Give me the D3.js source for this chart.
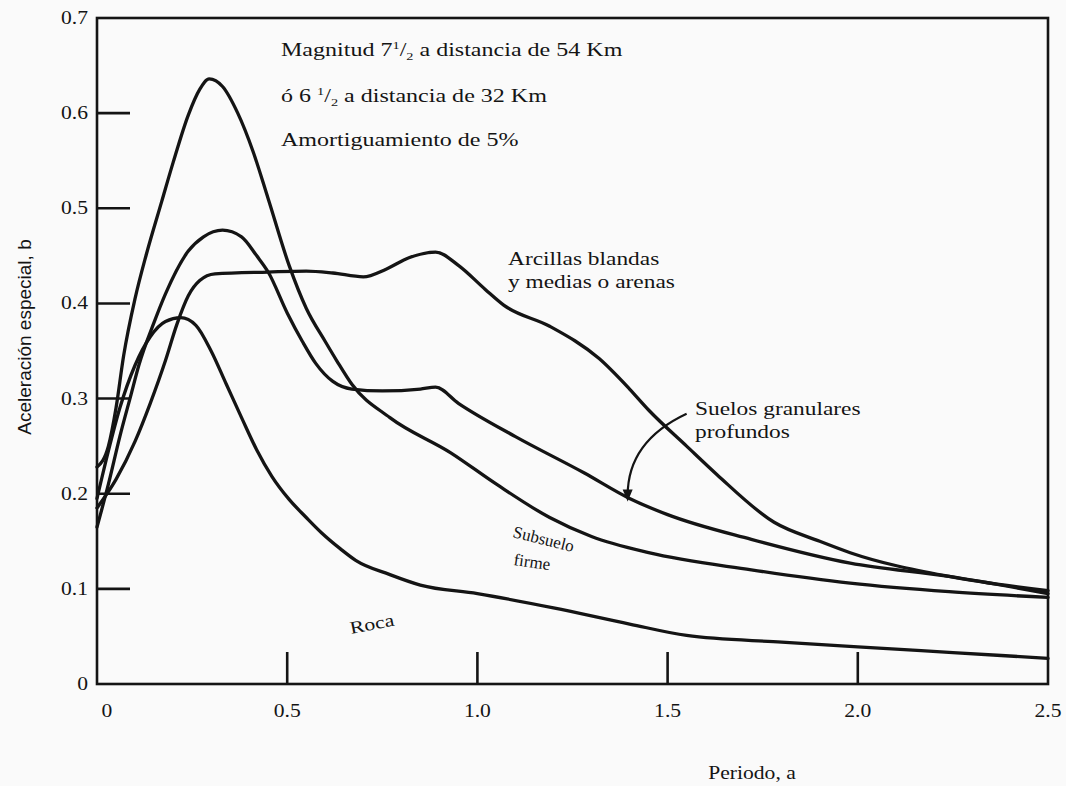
<!DOCTYPE html>
<html><head><meta charset="utf-8">
<script src="https://cdn.jsdelivr.net/npm/d3@7"></script>
<style>html,body{margin:0;padding:0;background:#fafafa;} svg{display:block;}</style>
</head><body>
<svg id="chart" width="1066" height="786"></svg>
<script>
// ---- data ----
const xTicks = [0, 0.5, 1.0, 1.5, 2.0, 2.5];
const xTickLabels = ["0", "0.5", "1.0", "1.5", "2.0", "2.5"];
const yTicks = [0, 0.1, 0.2, 0.3, 0.4, 0.5, 0.6, 0.7];
const yTickLabels = ["0", "0.1", "0.2", "0.3", "0.4", "0.5", "0.6", "0.7"];

const periodoRoca = [0, 0.03, 0.06, 0.10, 0.14, 0.18, 0.22, 0.26, 0.30, 0.34, 0.38, 0.42, 0.46, 0.505, 0.55, 0.59, 0.64, 0.68, 0.77, 0.85, 1.0, 1.2, 1.4, 1.55, 1.8, 2.0, 2.25, 2.5];
const acelRoca =    [0.195, 0.245, 0.29, 0.335, 0.365, 0.381, 0.385, 0.377, 0.35, 0.315, 0.28, 0.246, 0.218, 0.194, 0.175, 0.159, 0.142, 0.13, 0.115, 0.104, 0.095, 0.08, 0.063, 0.051, 0.044, 0.039, 0.033, 0.027];

const periodoFirme = [0, 0.03, 0.05, 0.07, 0.10, 0.13, 0.17, 0.20, 0.24, 0.27, 0.295, 0.33, 0.37, 0.41, 0.45, 0.505, 0.55, 0.60, 0.63, 0.67, 0.77, 0.93, 1.05, 1.19, 1.30, 1.45, 1.72, 1.98, 2.24, 2.5];
const acelFirme =    [0.228, 0.25, 0.29, 0.345, 0.405, 0.452, 0.507, 0.548, 0.598, 0.625, 0.636, 0.628, 0.60, 0.56, 0.51, 0.44, 0.395, 0.36, 0.34, 0.315, 0.28, 0.243, 0.21, 0.175, 0.155, 0.138, 0.12, 0.106, 0.097, 0.091];

const periodoGranular = [0, 0.03, 0.06, 0.09, 0.11, 0.15, 0.18, 0.24, 0.28, 0.33, 0.38, 0.42, 0.45, 0.50, 0.54, 0.575, 0.62, 0.67, 0.75, 0.85, 0.89, 0.95, 1.10, 1.28, 1.40, 1.50, 1.72, 1.98, 2.24, 2.5];
const acelGranular =    [0.165, 0.21, 0.26, 0.305, 0.335, 0.38, 0.41, 0.455, 0.47, 0.477, 0.47, 0.45, 0.433, 0.39, 0.36, 0.337, 0.318, 0.31, 0.308, 0.31, 0.312, 0.295, 0.26, 0.222, 0.195, 0.178, 0.152, 0.127, 0.113, 0.095];

const periodoArcilla = [0, 0.05, 0.10, 0.14, 0.18, 0.21, 0.24, 0.27, 0.31, 0.45, 0.55, 0.62, 0.70, 0.76, 0.82, 0.89, 0.95, 1.02, 1.07, 1.19, 1.32, 1.40, 1.45, 1.55, 1.63, 1.78, 1.90, 1.98, 2.24, 2.5];
const acelArcilla =    [0.185, 0.215, 0.255, 0.295, 0.34, 0.378, 0.408, 0.424, 0.431, 0.433, 0.434, 0.432, 0.428, 0.436, 0.448, 0.454, 0.44, 0.415, 0.398, 0.376, 0.342, 0.31, 0.288, 0.25, 0.22, 0.17, 0.15, 0.138, 0.113, 0.098];

const series = [
  {name: "Roca", x: periodoRoca, y: acelRoca},
  {name: "Subsuelo firme", x: periodoFirme, y: acelFirme},
  {name: "Suelos granulares profundos", x: periodoGranular, y: acelGranular},
  {name: "Arcillas blandas y medias o arenas", x: periodoArcilla, y: acelArcilla}
];

// ---- layout ----
const svg = d3.select("#chart");
const W = 1066, H = 786;
const x = d3.scaleLinear().domain([0, 2.5]).range([97, 1048]);
const y = d3.scaleLinear().domain([0, 0.7]).range([684, 18]);
const ink = "#141414";
const serif = "'Liberation Serif','Times New Roman',serif";
const SX = 1.2;   // horizontal stretch of the scanned tick lettering
const SXT = 1.3;  // horizontal stretch of the notes

svg.append("rect").attr("width", W).attr("height", H).attr("fill", "#fafafa");

// frame
svg.append("rect")
  .attr("x", x(0)).attr("y", y(0.7))
  .attr("width", x(2.5) - x(0)).attr("height", y(0) - y(0.7))
  .attr("fill", "none").attr("stroke", ink).attr("stroke-width", 2.6);

// y ticks (inward)
svg.append("g").selectAll("line")
  .data(yTicks.filter(v => v > 0 && v < 0.7))
  .join("line")
  .attr("x1", x(0)).attr("x2", x(0) + 33)
  .attr("y1", d => y(d)).attr("y2", d => y(d))
  .attr("stroke", ink).attr("stroke-width", 2.6);

// x ticks (inward)
svg.append("g").selectAll("line")
  .data(xTicks.filter(v => v > 0 && v < 2.5))
  .join("line")
  .attr("x1", d => x(d)).attr("x2", d => x(d))
  .attr("y1", y(0)).attr("y2", y(0) - 32)
  .attr("stroke", ink).attr("stroke-width", 2.6);

function stretchedText(px, py, str, size, anchor, sx) {
  return svg.append("text")
    .attr("transform", `translate(${px},${py}) scale(${sx || SX},1)`)
    .attr("font-family", serif)
    .attr("font-size", size)
    .attr("fill", ink)
    .attr("text-anchor", anchor || "start")
    .text(str);
}

// y tick labels
yTicks.forEach((v, i) => {
  stretchedText(88, y(v) + 6, yTickLabels[i], 18, "end");
});
// x tick labels
xTicks.forEach((v, i) => {
  stretchedText(v === 0 ? x(v) + 10 : x(v), 717, xTickLabels[i], 18, "middle");
});

// axis titles
stretchedText(752, 779, "Periodo, a", 18, "middle");
svg.append("text")
  .attr("transform", `translate(31,337) rotate(-90)`)
  .attr("font-family", "'Liberation Sans',Arial,sans-serif")
  .attr("font-size", 19)
  .attr("fill", ink)
  .attr("text-anchor", "middle")
  .text("Aceleración especial, b");

// curves
const line = d3.line()
  .x(d => x(d[0])).y(d => y(d[1]))
  .curve(d3.curveMonotoneX);

svg.append("g").selectAll("path")
  .data(series)
  .join("path")
  .attr("d", s => line(s.x.map((v, i) => [v, s.y[i]])))
  .attr("fill", "none")
  .attr("stroke", ink)
  .attr("stroke-width", 3.3)
  .attr("stroke-linejoin", "round")
  .attr("stroke-linecap", "round");

// header notes with fractions
function fractionLine(px, py, before, num, den, after) {
  const t = svg.append("text")
    .attr("transform", `translate(${px},${py}) scale(${SXT},1)`)
    .attr("font-family", serif).attr("font-size", 18.5).attr("fill", ink);
  t.append("tspan").text(before);
  t.append("tspan").attr("font-size", 11).attr("dy", -7).text(num);
  t.append("tspan").attr("dy", 7).text("/");
  t.append("tspan").attr("font-size", 11).attr("dy", 4).text(den);
  t.append("tspan").attr("dy", -4).text(after);
}
fractionLine(281, 56, "Magnitud 7", "1", "2", " a distancia de 54 Km");
fractionLine(281, 102, "ó 6 ", "1", "2", " a distancia de 32 Km");
stretchedText(281, 146, "Amortiguamiento de 5%", 18.5, "start", SXT);

// curve labels
stretchedText(508, 265, "Arcillas blandas", 18, "start", SXT);
stretchedText(508, 288, "y medias o arenas", 18, "start", SXT);
stretchedText(695, 415, "Suelos granulares", 18, "start", SXT);
stretchedText(695, 438, "profundos", 18, "start", SXT);

svg.append("text")
  .attr("transform", `translate(512,537) rotate(14)`)
  .attr("font-family", serif).attr("font-size", 17).attr("fill", ink)
  .text("Subsuelo");
svg.append("text")
  .attr("transform", `translate(513,565) rotate(8)`)
  .attr("font-family", serif).attr("font-size", 17).attr("fill", ink)
  .text("firme");
svg.append("text")
  .attr("transform", `translate(351,634) rotate(-11) scale(1.25,1)`)
  .attr("font-family", serif).attr("font-size", 17.5).attr("fill", ink)
  .text("Roca");

// arrow from the "Suelos granulares profundos" label to its curve
const tail = [1.55, 0.284], bend = [1.395, 0.255], tip = [1.395, 0.198];
svg.append("path")
  .attr("d", `M${x(tail[0])},${y(tail[1])} Q${x(bend[0])},${y(bend[1])} ${x(tip[0])},${y(tip[1])}`)
  .attr("fill", "none").attr("stroke", ink).attr("stroke-width", 2.2);
const tx = x(tip[0]), ty = y(tip[1]) + 6;
svg.append("path")
  .attr("d", `M${tx - 5},${ty - 12} L${tx + 5},${ty - 12} L${tx},${ty} Z`)
  .attr("fill", ink);
</script>
</body></html>
